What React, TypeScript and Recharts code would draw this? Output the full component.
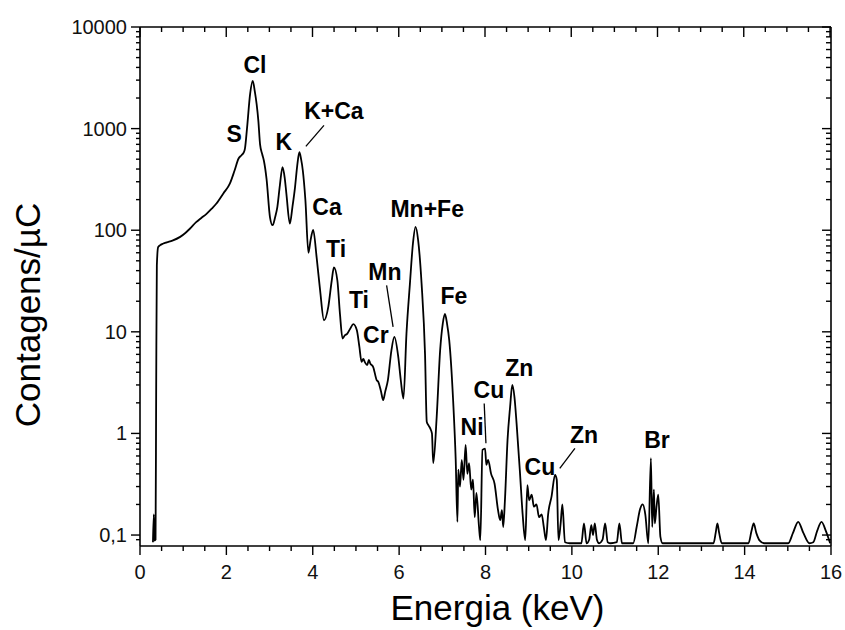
import React from "react";
import {
  LineChart,
  Line,
  XAxis,
  YAxis,
  ReferenceDot,
  ReferenceLine,
} from "recharts";

// spectrum: [energy keV, counts/uC]
const lowEnergy: [number, number][] = [
  [0.3, 0.085], [0.32, 0.16], [0.335, 0.088], [0.36, 0.09], [0.375, 3], [0.39, 45],
  [0.42, 68], [0.46, 71], [0.54, 74], [0.62, 76], [0.75, 79], [0.93, 86], [1.05, 94],
  [1.16, 104], [1.3, 120], [1.42, 132], [1.54, 145], [1.66, 163], [1.77, 183],
  [1.93, 230], [2.08, 287], [2.19, 387], [2.28, 505], [2.35, 547], [2.4, 580],
  [2.43, 635], [2.48, 1030], [2.55, 2200], [2.61, 2950], [2.66, 2300], [2.7, 1750],
  [2.74, 1200], [2.78, 700], [2.83, 560], [2.87, 480], [2.93, 320], [3.01, 134],
  [3.07, 112], [3.13, 135], [3.18, 169], [3.24, 280], [3.3, 418], [3.35, 330],
  [3.39, 228], [3.47, 116], [3.53, 170], [3.59, 266], [3.64, 430], [3.69, 585],
  [3.73, 500], [3.77, 387], [3.83, 197], [3.9, 60], [3.95, 80], [4.01, 101],
];

const midEnergy: [number, number][] = [
  [4.09, 54], [4.17, 25.7], [4.26, 13], [4.36, 17.6], [4.44, 32], [4.49, 43],
  [4.57, 32], [4.63, 15], [4.69, 8.6], [4.74, 9.2], [4.8, 9.6], [4.87, 10.8],
  [4.94, 11.9], [5.02, 10.4], [5.08, 7.1], [5.13, 5.06], [5.17, 5.4], [5.21, 5.0],
  [5.26, 4.7], [5.3, 5.3], [5.33, 4.9], [5.4, 4.5], [5.48, 3.35], [5.52, 3.2],
  [5.58, 2.6], [5.63, 2.13], [5.68, 2.6], [5.74, 3.35], [5.82, 6.5], [5.89, 8.9],
  [5.98, 5.66], [6.04, 3.3], [6.1, 2.2], [6.17, 9.6], [6.25, 29.8], [6.32, 74],
  [6.38, 108], [6.44, 80], [6.52, 29.8], [6.6, 6.0], [6.64, 1.3], [6.68, 1.2],
  [6.72, 1.12], [6.76, 1.0], [6.79, 0.51], [6.87, 1.46], [6.95, 6.6], [7.01, 12],
  [7.06, 15], [7.11, 12], [7.16, 8.3], [7.25, 2.13], [7.31, 0.55], [7.35, 0.135],
];

const traceEnergy: [number, number][] = [
  [7.37, 0.44], [7.41, 0.3], [7.45, 0.55], [7.49, 0.35], [7.54, 0.77], [7.58, 0.4],
  [7.62, 0.51], [7.67, 0.28], [7.71, 0.35], [7.75, 0.15], [7.79, 0.26], [7.85, 0.12],
  [7.88, 0.089], [7.93, 0.69], [7.99, 0.71], [8.02, 0.49], [8.06, 0.55], [8.13, 0.4],
  [8.21, 0.32], [8.29, 0.176], [8.34, 0.14], [8.38, 0.176], [8.41, 0.12], [8.45, 0.22],
  [8.51, 0.86], [8.57, 1.83], [8.62, 3.0], [8.67, 2.29], [8.72, 1.25], [8.8, 0.4],
  [8.86, 0.16], [8.92, 0.089], [8.97, 0.31], [9.01, 0.22], [9.07, 0.25], [9.12, 0.19],
  [9.18, 0.2], [9.24, 0.15], [9.3, 0.16], [9.35, 0.12], [9.4, 0.089], [9.45, 0.16],
  [9.53, 0.24], [9.61, 0.39], [9.65, 0.35], [9.69, 0.089], [9.74, 0.13], [9.78, 0.2],
  [9.84, 0.085], [9.95, 0.083],
];

const highEnergy: [number, number][] = [
  [10.22, 0.083], [10.28, 0.13], [10.34, 0.083], [10.4, 0.09], [10.45, 0.125],
  [10.49, 0.1], [10.53, 0.13], [10.58, 0.09], [10.63, 0.083], [10.71, 0.09],
  [10.77, 0.13], [10.83, 0.085], [10.9, 0.083], [11.04, 0.085], [11.1, 0.13],
  [11.16, 0.083], [11.42, 0.083], [11.5, 0.12], [11.58, 0.18], [11.64, 0.2],
  [11.7, 0.16], [11.77, 0.083], [11.83, 0.57], [11.86, 0.12], [11.9, 0.28],
  [11.92, 0.13], [11.96, 0.19], [12.0, 0.25], [12.05, 0.096], [12.1, 0.083],
  [13.28, 0.083], [13.33, 0.105], [13.37, 0.13], [13.41, 0.105], [13.47, 0.083],
  [14.09, 0.083], [14.16, 0.11], [14.21, 0.13], [14.27, 0.105], [14.35, 0.088],
  [14.45, 0.083], [15.01, 0.083], [15.12, 0.105], [15.24, 0.135], [15.36, 0.105],
  [15.5, 0.083], [15.59, 0.085], [15.68, 0.11], [15.78, 0.135], [15.88, 0.11],
  [15.98, 0.083],
];

// element labels: [text, energy, counts]
const peakLabels: [string, number, number][] = [
  ["Cl", 2.66, 4180], ["S", 2.18, 877], ["K", 3.33, 731], ["K+Ca", 4.49, 1476],
  ["Ca", 4.33, 168], ["Ti", 4.54, 66], ["Ti", 5.07, 20.5], ["Mn", 5.67, 38.6],
  ["Cr", 5.46, 9.26], ["Mn+Fe", 6.65, 160], ["Fe", 7.27, 22.4], ["Ni", 7.69, 1.15],
  ["Cu", 8.08, 2.67], ["Zn", 8.78, 4.39], ["Cu", 9.26, 0.466], ["Zn", 10.28, 0.96],
  ["Br", 11.97, 0.86],
];

// pointer lines: [e1, c1, e2, c2]
const pointers: [number, number, number, number][] = [
  [4.26, 1075, 3.84, 668],
  [5.71, 28.7, 5.86, 11.2],
  [7.97, 1.97, 8.01, 0.8],
  [10.07, 0.712, 9.72, 0.453],
];

const X_MAX = 16;
const xTicks = Array.from({ length: 33 }, (_, i) => i * 0.5);
const yTicks = [0.09];
[0.1, 1, 10, 100, 1000].forEach((d) => {
  for (let m = 1; m <= 9; m++) yTicks.push(+(m * d).toPrecision(3));
});
yTicks.push(10000);

const data = [...lowEnergy, ...midEnergy, ...traceEnergy, ...highEnergy].map(
  ([e, c]) => ({ e, c })
);

const FONT = '"Liberation Sans", Arial, sans-serif';
const Y_DOMAIN: [number, number] = [0.078, 10000];

const W = 845;
const H = 630;
const MARGIN = { top: 27, right: 14, bottom: 83, left: 60 };
const Y_AXIS_W = 80;
const RIGHT_AXIS_W = 1;
const PLOT_L = MARGIN.left + Y_AXIS_W;
const PLOT_W = W - PLOT_L - MARGIN.right - RIGHT_AXIS_W;

const isMajorX = (v: number) => Math.abs(v % 2) < 1e-6;
const isMajorY = (v: number) => {
  const l = Math.log10(v);
  return Math.abs(l - Math.round(l)) < 1e-6;
};
const fmtY = (v: number) => String(v).replace(".", ",");

const BottomTick = ({ x, y, payload }: any) => {
  const major = isMajorX(payload.value);
  return (
    <g>
      <line x1={x} y1={y} x2={x} y2={y + (major ? 9 : 5)} stroke="#000" strokeWidth={1.4} />
      {major && (
        <text x={x} y={y + 33} textAnchor="middle" fontSize={20} fontFamily={FONT} fill="#111">
          {payload.value}
        </text>
      )}
    </g>
  );
};

const LeftTick = ({ x, y, payload }: any) => {
  const major = isMajorY(payload.value);
  return (
    <g>
      <line x1={x} y1={y} x2={x - (major ? 9 : 4)} y2={y} stroke="#000" strokeWidth={1.4} />
      {major && (
        <text x={x - 13} y={y + 7} textAnchor="end" fontSize={20} fontFamily={FONT} fill="#111">
          {fmtY(payload.value)}
        </text>
      )}
    </g>
  );
};

const RightTick = ({ x, y, payload }: any) => {
  const major = isMajorY(payload.value);
  return <line x1={x} y1={y} x2={x - (major ? 9 : 5)} y2={y} stroke="#000" strokeWidth={1.4} />;
};

const peakText = (text: string) => (props: any) => (
  <text
    x={props.cx}
    y={props.cy + 8}
    textAnchor="middle"
    fontSize={23}
    fontWeight="bold"
    fontFamily={FONT}
    fill="#000"
  >
    {text}
  </text>
);

// inward ticks hanging from the top frame (overlay, same layout constants as the chart)
function TopFrameTicks() {
  return (
    <svg
      width={W}
      height={H}
      style={{ position: "absolute", left: 0, top: 0, pointerEvents: "none" }}
    >
      {xTicks.map((t) => {
        const x = PLOT_L + (t / X_MAX) * PLOT_W;
        return (
          <line
            key={t}
            x1={x}
            y1={MARGIN.top}
            x2={x}
            y2={MARGIN.top + (isMajorX(t) ? 10 : 5)}
            stroke="#000"
            strokeWidth={1.4}
          />
        );
      })}
    </svg>
  );
}

const axisLine = { stroke: "#000", strokeWidth: 1.6 };

export default function App() {
  return (
    <div style={{ position: "fixed", left: 0, top: 0, width: W, height: H, background: "#fff" }}>
      <LineChart width={W} height={H} data={data} margin={MARGIN}>
        <XAxis
          dataKey="e"
          type="number"
          domain={[0, X_MAX]}
          allowDataOverflow
          ticks={xTicks}
          interval={0}
          height={1}
          tickSize={0}
          tickMargin={0}
          tickLine={false}
          axisLine={axisLine}
          tick={<BottomTick />}
          label={{
            content: ({ viewBox }: any) => (
              <text
                x={viewBox.x + viewBox.width / 2 + 12}
                y={viewBox.y + 74}
                textAnchor="middle"
                fontSize={35}
                fontFamily={FONT}
                fill="#000"
              >
                Energia (keV)
              </text>
            ),
          }}
        />
        <YAxis
          scale="log"
          type="number"
          domain={Y_DOMAIN}
          allowDataOverflow
          ticks={yTicks}
          interval={0}
          width={Y_AXIS_W}
          tickSize={0}
          tickMargin={0}
          tickLine={false}
          axisLine={axisLine}
          tick={<LeftTick />}
          label={{
            content: () => (
              <text
                x={40}
                y={315}
                transform="rotate(-90, 40, 315)"
                textAnchor="middle"
                fontSize={35}
                fontFamily={FONT}
                fill="#000"
              >
                Contagens/µC
              </text>
            ),
          }}
        />
        <YAxis
          yAxisId="right"
          orientation="right"
          mirror
          scale="log"
          type="number"
          domain={Y_DOMAIN}
          allowDataOverflow
          ticks={yTicks}
          interval={0}
          width={RIGHT_AXIS_W}
          tickSize={0}
          tickMargin={0}
          tickLine={false}
          axisLine={axisLine}
          tick={<RightTick />}
        />
        {/* top frame */}
        <ReferenceLine y={10000} stroke="#000" strokeWidth={1.6} ifOverflow="visible" />
        <Line
          type="monotone"
          dataKey="c"
          stroke="#000"
          strokeWidth={1.8}
          dot={false}
          isAnimationActive={false}
        />
        {pointers.map(([e1, c1, e2, c2], i) => (
          <ReferenceLine
            key={`p${i}`}
            segment={[
              { x: e1, y: c1 },
              { x: e2, y: c2 },
            ]}
            stroke="#000"
            strokeWidth={1.3}
            ifOverflow="visible"
          />
        ))}
        {peakLabels.map(([t, e, c], i) => (
          <ReferenceDot
            key={`l${i}`}
            x={e}
            y={c}
            r={0}
            ifOverflow="visible"
            shape={peakText(t)}
          />
        ))}
      </LineChart>
      <TopFrameTicks />
    </div>
  );
}
